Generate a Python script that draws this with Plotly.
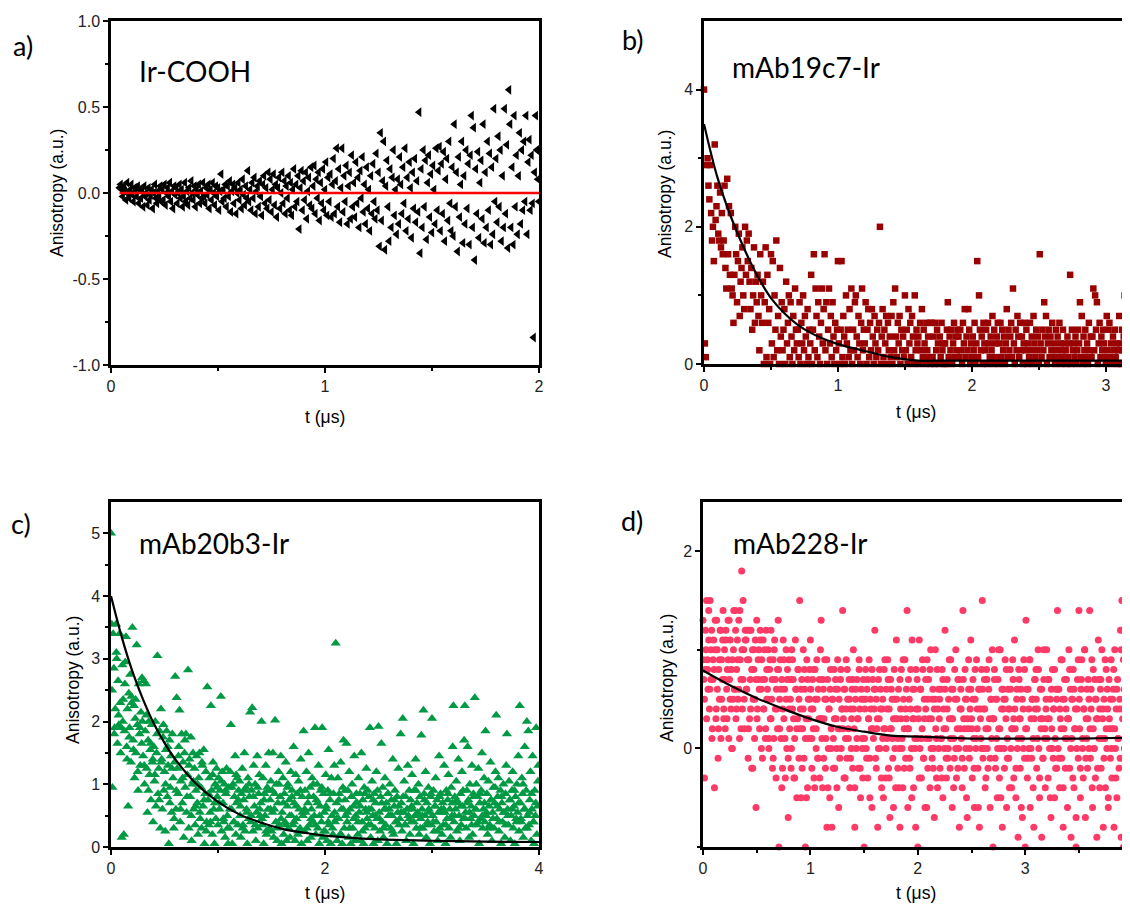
import numpy as np
import plotly.graph_objects as go

W, H = 1130, 905
PAGE_OFFSET = 8  # default HTML body margin

# ---------------- data ----------------
# Panel a: Ir-COOH, anisotropy in hundredths, uniform time grid
T0_A, DT_A = 0.04, 0.005
Y_A_HUNDREDTHS = [
    3, 5, 2, -2, 4, 1, -4, 6, 0, -3, 2, 5, -1, -5, 3, 1, -2, 4, -6, 2,
    -3, 1, -8, 4, -2, 0, -7, 3, -4, -1, 2, -9, 0, 5, -3, -6, 1, -2, 4, -5,
    2, -4, 5, -7, 0, 3, -2, 6, -5, 1, -9, 4, -1, 3, -6, 0, 5, -3, 2, -8,
    -2, 6, -5, 1, -7, 3, -3, 7, 0, -4, 4, -8, 2, -1, 5, -6, 1, -3, 6, -2,
    -6, 3, -1, 5, -9, 2, -4, 6, 0, -7, 4, -2, 3, -10, 1, 11, -5, 2, -3, 5,
    -8, 4, -2, 7, -11, 1, 5, -6, 3, -12, 0, 6, -4, 2, -9, 8, -1, -7, 4, -3,
    13, -5, 2, -10, 6, -3, 9, -12, 1, 4, -8, 7, -2, -13, 5, 10, -6, 3, -9, 12,
    -4, 8, -11, 2, 11, -7, 5, -14, 3, 9, -9, 0, 12, -6, 7, -12, 4, -3, 10, -10,
    6, -13, 2, 14, -8, 5, -5, 10, -21, 3, 13, -10, 7, -4, 12, -15, 1, 9, -7, 15,
    -9, 4, 16, -12, 8, -3, 12, -16, 6, -6, 14, -10, 2, 18, -13, 9, -5, 11, -14, 5,
    20, -12, 7, 26, -8, 14, -17, 3, 26, -11, 10, -5, 16, -18, 4, 12, -15, 22, -8, 6,
    -14, 18, -6, 9, -20, 13, -3, 21, -11, 5, -18, 15, -9, 2, -22, 10, -12, 17, -5, -15,
    23, -10, 12, -31, 35, -16, 7, 30, -33, 4, 19, -8, -28, 14, -20, 9, 25, -13, 2, -24,
    8, -18, 21, 5, -12, 15, -6, 26, -22, 9, -15, 18, 3, -26, 12, -9, 20, -17, 7, -11,
    47, -35, 14, -20, 25, -8, 19, -27, 6, 22, -14, 11, -23, 16, 2, -18, 26, -10, 13, 27,
    -22, 17, -12, 24, -28, 8, 20, -16, 30, -6, -22, 15, -25, 40, -8, 12, -34, 21, -14, 5,
    30, -29, 10, -18, 25, -9, 17, -30, 22, 45, -20, 38, -39, 14, -12, 24, -26, 6, 19, -15,
    40, -29, 12, -20, 30, -10, 23, -30, 15, -24, 49, -5, 20, -17, 33, -8, 25, -28, 10, -20,
    49, -12, 28, -32, 60, 40, -20, 15, -30, 45, -8, 22, -24, 10, 35, -18, 25, -10, 30, -5,
    45, -24, 18, 31, -10, 22, -6, -84, 12, 45, 25, 8, -5,
]
FIT_A_T = [0.04, 2.0]
FIT_A_Y = [0.0, 0.0]

# Panel b: mAb19c7-Ir, anisotropy in tenths
T0_B, DT_B = 0.0, 1 / 150
Y_B_TENTHS = [
    40, 3, 1, 29, 30, 26, 24, 29, 22, 18, 20, 15, 32, 21, 23,
    26, 19, 18, 25, 17, 22, 16, 18, 26, 14, 11, 27, 16, 23, 13,
    22, 11, 10, 6, 13, 20, 16, 9, 15, 19, 7, 12, 14, 17, 10,
    8, 20, 13, 18, 15, 19, 12, 8, 14, 5, 10, 17, 6, 12, 9,
    13, 7, 2, 16, 10, 6, 12, 0, 9, 17, 1, 13, 6, 8, 0,
    16, 3, 15, 1, 10, 5, 18, 2, 7, 0, 14, 4, 9, 2, 5,
    8, 0, 12, 3, 6, 10, 1, 9, 4, 0, 7, 2, 11, 5, 3,
    5, 1, 9, 0, 6, 3, 10, 2, 7, 4, 0, 8, 1, 5, 3,
    13, 0, 5, 16, 2, 11, 7, 1, 9, 4, 0, 6, 11, 3, 8,
    16, 2, 9, 0, 5, 11, 3, 7, 1, 9, 4, 0, 6, 2, 5,
    15, 3, 0, 5, 15, 1, 7, 4, 0, 10, 3, 5, 1, 8, 2,
    11, 0, 5, 2, 9, 10, 4, 1, 7, 3, 0, 6, 11, 2, 5,
    3, 9, 0, 5, 8, 1, 6, 2, 8, 4, 0, 7, 3, 1, 5,
    2, 6, 20, 0, 4, 8, 1, 5, 3, 7, 0, 6, 2, 4, 1,
    7, 0, 9, 2, 11, 4, 1, 6, 3, 7, 0, 5, 2, 4, 1,
    10, 2, 5, 0, 8, 3, 6, 1, 7, 4, 0, 10, 2, 5, 3,
    4, 0, 6, 2, 8, 1, 5, 3, 0, 6, 2, 4, 1, 6, 0,
    6, 1, 4, 0, 6, 2, 5, 3, 0, 4, 1, 6, 2, 3, 0,
    3, 0, 5, 9, 1, 4, 2, 5, 0, 3, 6, 1, 4, 2, 5,
    4, 1, 5, 2, 0, 6, 3, 8, 1, 4, 2, 8, 5, 0, 3,
    1, 4, 2, 6, 0, 3, 15, 1, 10, 5, 2, 4, 0, 6, 3,
    2, 5, 0, 6, 3, 1, 4, 2, 7, 0, 5, 3, 1, 4, 6,
    0, 3, 6, 1, 5, 2, 4, 0, 3, 8, 1, 5, 2, 4, 6,
    1, 11, 3, 0, 5, 2, 7, 4, 1, 6, 2, 4, 0, 3, 6,
    2, 5, 0, 3, 1, 6, 2, 4, 0, 7, 3, 1, 5, 2, 4,
    0, 16, 3, 1, 5, 2, 9, 4, 7, 0, 3, 5, 1, 4, 2,
    6, 1, 3, 0, 5, 2, 4, 1, 6, 3, 0, 2, 5, 1, 3,
    2, 0, 4, 1, 3, 13, 0, 5, 2, 3, 1, 4, 0, 2, 5,
    3, 9, 1, 7, 0, 4, 2, 5, 1, 3, 0, 6, 2, 4, 1,
    4, 11, 2, 10, 5, 9, 0, 3, 6, 1, 4, 2, 5, 3, 1,
    0, 7, 2, 5, 6, 1, 3, 0, 4, 2, 5, 1, 3, 0, 2,
    7, 3, 0, 5, 2, 4, 10, 1, 3, 0, 5, 2, 4, 1, 3,
    2, 6, 0, 4, 1, 3, 5, 0, 2, 4,
]
FIT_B_T = [0, 0.1, 0.2, 0.3, 0.4, 0.5, 0.6, 0.7, 0.8, 0.9, 1.0, 1.2, 1.4, 1.6, 1.8, 2.0, 2.5, 3.0, 3.5, 4.0]
FIT_B_Y = [3.5, 2.72, 2.15, 1.68, 1.28, 0.96, 0.74, 0.57, 0.45, 0.36, 0.29, 0.19, 0.1, 0.05, 0.05, 0.05, 0.05, 0.05, 0.05, 0.05]

# Panel c: mAb20b3-Ir
T0_C, DT_C = 0.0, 1 / 150
Y_C = [
    5.0, 3.55, 0.95, 3.4, 2.85, 1.9, 2.2, 3.55, 3.0, 1.65, 2.65, 1.95, 3.4, 2.3, 1.9,
    0.15, 2.9, 2.35, 0.2, 1.85, 2.95, 3.35, 1.6, 2.2, 0.65, 2.45, 1.9, 2.75, 1.35, 2.3,
    3.5, 1.7, 2.25, 1.1, 2.05, 1.5, 3.22, 1.95, 0.9, 2.6, 1.8, 1.3, 2.15, 1.65, 2.0,
    1.45, 2.65, 1.0, 1.85, 2.6, 1.25, 0.55, 1.7, 2.0, 1.15, 1.55, 0.75, 1.95, 1.35, 0.4,
    1.6, 1.05, 2.0, 0.65, 1.5, 3.05, 0.85, 1.25, 1.85, 0.3, 2.2, 1.4, 0.6, 1.75, 0.9,
    1.2, 0.25, 1.55, 1.85, 0.8, 1.3, 0.05, 1.7, 0.95, 1.45, 0.55, 1.8, 1.1, 0.3, 1.35,
    2.72, 0.6, 2.38, 1.25, 0.85, 1.6, 2.18, 0.4, 1.05, 1.8, 0.7, 1.35, 0.15, 1.5, 0.95,
    1.8, 0.55, 1.15, 2.82, 0.3, 1.4, 0.8, 1.75, 0.1, 1.0, 1.5, 0.6, 1.25, 0.35, 0.9,
    1.45, 0.7, 0.2, 1.1, 1.5, 0.45, 0.95, 0.3, 1.3, 0.65, 1.55, 0.05, 0.85, 1.2, 0.4,
    2.55, 0.75, 0.35, 1.1, 0.55, 2.25, 0.9, 0.2, 1.35, 0.6, 0.05, 1.0, 0.45, 1.25, 0.8,
    0.35, 1.1, 0.6, 0.9, 2.4, 0.25, 1.2, 0.7, 0.4, 1.0, 0.15, 0.85, 1.25, 0.5, 0.05,
    0.95, 0.3, 1.2, 1.95, 0.6, 0.05, 1.0, 0.4, 0.8, 1.45, 0.2, 0.7, 1.1, 0.35, 0.9,
    1.05, 0.5, 0.15, 0.85, 1.25, 0.35, 0.75, 1.5, 0.25, 0.95, 0.6, 0.05, 1.1, 0.45, 0.8,
    2.15, 0.4, 0.9, 2.22, 0.25, 1.3, 0.65, 1.0, 0.1, 0.55, 1.45, 0.3, 0.85, 1.15, 0.5,
    0.7, 2.0, 0.35, 1.1, 0.05, 0.85, 0.5, 1.3, 0.2, 0.95, 0.6, 1.5, 0.3, 0.75, 1.05,
    0.25, 0.9, 1.5, 0.15, 0.6, 2.02, 0.4, 1.0, 0.1, 0.7, 1.2, 0.35, 0.8, 1.45, 0.05,
    0.55, 1.1, 0.2, 0.85, 0.4, 1.35, 0.1, 0.65, 1.0, 0.3, 0.75, 0.15, 1.2, 0.5, 0.9,
    0.35, 1.6, 0.7, 0.1, 1.15, 0.45, 0.85, 0.2, 1.05, 0.6, 0.3, 1.4, 0.05, 0.8, 0.5,
    1.85, 0.25, 0.9, 0.55, 1.2, 0.1, 0.7, 1.5, 0.35, 0.95, 0.15, 0.6, 1.1, 0.4, 0.8,
    0.5, 1.9, 0.2, 0.75, 1.0, 0.3, 1.3, 0.05, 0.65, 0.9, 0.4, 1.9, 0.15, 0.85, 0.55,
    0.25, 1.15, 0.6, 0.1, 0.9, 1.55, 0.35, 0.75, 0.05, 1.1, 0.5, 0.2, 0.85, 1.3, 0.4,
    3.25, 0.7, 0.1, 1.1, 0.45, 0.85, 0.2, 1.35, 0.6, 0.05, 0.95, 1.7, 0.3, 0.75, 0.5,
    1.65, 0.4, 0.9, 0.15, 1.2, 0.6, 0.05, 0.8, 1.0, 0.3, 0.65, 1.45, 0.1, 0.5, 0.85,
    0.7, 0.2, 1.1, 0.55, 0.85, 0.1, 1.5, 0.4, 0.75, 0.05, 0.95, 0.3, 0.6, 1.25, 0.45,
    0.9, 0.35, 0.8, 1.9, 0.15, 0.6, 1.05, 0.5, 0.05, 0.85, 0.3, 0.7, 1.2, 0.45, 0.1,
    1.92, 0.55, 0.25, 0.8, 1.65, 0.4, 0.95, 0.15, 0.6, 1.1, 0.35, 0.7, 0.05, 0.85, 0.5,
    0.6, 1.0, 0.3, 0.75, 0.5, 1.4, 0.2, 0.65, 0.9, 0.4, 0.05, 0.8, 0.55, 1.25, 0.35,
    0.45, 1.8, 0.7, 0.25, 2.05, 0.55, 1.05, 0.35, 0.8, 0.1, 0.6, 1.3, 0.5, 0.9, 0.2,
    0.75, 0.4, 1.15, 0.6, 0.05, 0.9, 0.5, 1.4, 0.3, 0.7, 0.55, 1.0, 0.2, 0.8, 0.45,
    1.78, 0.6, 0.3, 2.18, 0.85, 0.5, 1.2, 0.15, 0.7, 0.4, 0.95, 0.55, 0.05, 0.8, 0.35,
    2.05, 0.5, 0.9, 0.25, 0.65, 1.1, 0.4, 0.75, 0.1, 0.55, 1.45, 0.3, 0.85, 0.6, 0.2,
    0.7, 0.35, 1.3, 0.55, 0.05, 0.9, 0.45, 0.75, 1.15, 0.3, 0.6, 0.15, 0.95, 0.5, 1.6,
    2.25, 0.4, 0.8, 0.6, 1.05, 0.25, 0.7, 1.4, 0.5, 0.1, 0.85, 0.35, 1.2, 0.65, 0.45,
    1.7, 2.25, 0.55, 0.3, 0.9, 1.6, 0.75, 0.15, 1.0, 0.45, 0.65, 1.3, 0.2, 0.85, 0.5,
    2.38, 0.6, 1.0, 0.35, 0.8, 1.25, 0.05, 0.7, 0.45, 0.9, 1.5, 0.3, 0.6, 1.1, 0.4,
    1.85, 0.5, 0.85, 0.2, 1.05, 0.65, 0.35, 1.35, 0.75, 0.1, 0.55, 0.95, 0.3, 0.7, 1.2,
    2.1, 0.45, 0.8, 1.1, 0.25, 0.6, 0.9, 0.05, 0.7, 0.4, 1.0, 0.55, 0.15, 0.85, 1.3,
    1.8, 0.6, 0.35, 1.05, 0.75, 0.1, 0.5, 0.9, 1.2, 0.3, 0.65, 0.05, 0.8, 0.45, 1.0,
    0.55, 1.45, 0.25, 2.25, 0.7, 0.4, 1.1, 0.85, 0.15, 0.6, 1.6, 0.3, 0.9, 2.0, 0.5,
    1.85, 0.35, 0.75, 1.2, 0.1, 0.6, 1.45, 0.4, 0.05, 0.9, 0.5, 1.9, 0.2, 0.65, 1.3,
]
# interleaved samples of the same run (every other read-out), panel c
T0_C2, DT_C2 = 0.01, 0.02
Y_C2 = [
    2.5, 1.8, 3.1, 2.1, 1.5, 2.0, 2.6, 1.4, 1.75, 2.4,
    1.55, 2.35, 1.2, 1.9, 2.7, 1.3, 2.1, 0.9, 1.65, 1.4,
    1.15, 1.8, 0.75, 1.35, 1.95, 1.0, 1.6, 0.7, 1.25, 0.45,
    0.9, 1.45, 0.6, 1.1, 1.7, 0.8, 1.3, 0.5, 1.05, 0.65,
    1.0, 0.55, 1.35, 0.75, 0.25, 0.85, 0.4, 1.15, 0.7, 0.95,
    0.7, 1.05, 0.45, 0.9, 0.3, 0.6, 0.95, 0.4, 1.15, 0.75,
    0.65, 0.3, 0.9, 0.55, 1.0, 0.5, 0.8, 0.35, 0.95, 0.6,
    0.45, 0.75, 0.25, 0.9, 0.6, 0.55, 0.85, 0.3, 1.0, 0.45,
    0.7, 0.35, 0.95, 0.5, 0.8, 0.4, 0.65, 0.25, 0.9, 0.55,
    0.6, 0.3, 0.8, 0.45, 1.0, 0.35, 0.7, 0.5, 0.95, 0.25,
    0.65, 0.4, 0.85, 0.3, 0.55, 0.45, 0.75, 0.2, 0.6, 0.9,
    0.55, 0.3, 0.8, 0.45, 0.7, 0.4, 0.65, 0.25, 0.85, 0.55,
    0.6, 0.35, 0.75, 0.5, 0.9, 0.45, 0.7, 0.3, 0.6, 0.85,
    0.5, 0.25, 0.75, 0.4, 0.65, 0.55, 0.8, 0.35, 0.6, 0.45,
    0.65, 0.4, 0.9, 0.5, 0.3, 0.5, 0.75, 0.35, 0.6, 0.85,
    0.4, 0.65, 0.25, 0.8, 0.55, 0.6, 0.35, 0.85, 0.45, 0.7,
    0.5, 0.75, 0.3, 0.65, 0.9, 0.45, 0.7, 0.55, 0.35, 0.8,
    0.6, 0.4, 0.85, 0.5, 0.7, 0.55, 0.3, 0.75, 0.45, 0.95,
    0.65, 0.4, 0.8, 0.55, 0.35, 0.5, 0.75, 0.6, 0.9, 0.4,
    0.7, 0.45, 1.0, 0.6, 0.3, 0.55, 0.85, 0.4, 0.7, 1.05,
]
FIT_C_T = [0, 0.1, 0.2, 0.3, 0.4, 0.5, 0.6, 0.8, 1.0, 1.2, 1.4, 1.6, 1.8, 2.0, 2.5, 3.0, 3.5, 4.0]
FIT_C_Y = [4.0, 3.35, 2.8, 2.35, 1.97, 1.66, 1.4, 1.0, 0.72, 0.52, 0.39, 0.29, 0.23, 0.18, 0.12, 0.1, 0.085, 0.08]

# Panel d: mAb228-Ir, anisotropy in tenths
T0_D, DT_D = 0.0, 1 / 150
Y_D_TENTHS = [
    13, 7, -3, 8, 10, 15, 9, 6, 11, 4, 15, 7, 12, 2, 9,
    11, -4, 10, 3, 13, 6, -1, 8, 5, 12, 1, 9, 7, 14, 4,
    10, 2, 12, 6, 8, 13, 1, 7, 11, 4, 0, 9, 5, 14, 6,
    14, 3, 8, 11, 5, 13, 1, 9, 7, 18, 4, 15, 10, 2, 12,
    11, 6, 12, -1, 9, 3, 7, 12, -2, 10, 5, 8, 1, 11, -6,
    13, 4, 7, 10, 2, 12, 6, 9, -1, 11, 4, 7, 1, 12, 5,
    6, 10, 0, 8, 3, 12, 5, -2, 9, 1, 11, 7, -3, 4, 8,
    13, -10, 5, 9, 1, 7, -2, 11, 3, 6, -3, 10, 0, 8, -7,
    9, 2, 5, -2, 10, 4, 7, -3, 1, 11, 6, -5, 3, 8, -1,
    15, 4, -5, 7, 2, 10, -1, 6, -10, 3, 9, -4, 5, 1, 8,
    11, 4, -2, 7, 2, 8, -4, 5, 0, 9, -1, 6, 3, -3, 10,
    13, 1, -4, 6, 3, 9, -2, 5, -8, 7, 0, 4, -5, 8, 2,
    -8, 5, 1, 8, -2, 6, 3, -4, 9, 2, 5, -1, 7, 0, 4,
    14, 3, -3, 6, 1, 9, -1, 5, 2, 7, -4, 4, 0, 6, -2,
    10, 2, -8, 5, 0, 7, 3, -2, 8, 4, -5, 6, 1, -3, 5,
    -10, 4, 8, 0, 6, -3, 3, 9, -1, 5, 2, -6, 7, 1, 4,
    12, -1, 5, 2, -8, 7, 3, 0, 6, -3, 4, 1, -5, 8, 2,
    -3, 6, 1, 9, -2, 4, -7, 7, 2, 5, -1, 3, 8, 0, -4,
    11, 3, -2, 6, 0, -8, 4, 8, 1, -4, 5, 2, 9, -1, 3,
    14, -6, 2, 5, -2, 8, 0, 11, 3, -4, 6, 1, -8, 4, 7,
    -10, 3, 11, 0, 6, -3, 2, 8, -1, 5, -6, 4, 1, 9, -2,
    7, 1, -4, 10, 3, -1, 6, 0, -7, 5, 2, -3, 8, 4, 0,
    3, -2, 6, 1, 8, -5, 4, 0, 12, 2, -3, 7, -1, 5, 3,
    -2, 9, 3, -6, 6, 1, -1, 5, 10, -3, 2, 7, 0, -8, 4,
    6, 1, -4, 14, 3, -2, 8, 0, 5, -7, 2, 6, -1, 4, 11,
    3, -3, 7, 1, -6, 5, 0, 9, 2, -2, 6, -8, 4, 1, 8,
    15, -1, 4, 7, -4, 2, 8, 0, -2, 6, 3, -6, 5, 1, 10,
    -10, 3, 8, -1, 5, 1, -5, 7, 2, -3, 10, 0, 4, -8, 6,
    5, -2, 9, 3, -6, 1, 6, -1, 4, 8, 0, -4, 2, 7, -3,
    11, 2, -5, 5, 0, -9, 8, 3, -2, 6, 1, -7, 4, 9, -1,
    -10, 13, 2, -3, 6, 0, 9, -6, 3, -1, 5, 1, -8, 7, 4,
    8, -2, 4, 10, 0, -5, 6, 2, -9, 3, -1, 7, 1, -4, 5,
    10, 3, -3, 7, 0, 5, -7, 2, 8, -1, 4, -5, 1, 6, -2,
    14, 0, 6, -4, 3, 9, -1, 5, -8, 2, 7, -2, 4, 1, -6,
    3, 10, -2, 6, -9, 1, 5, 8, -4, 2, 4, -10, 0, 7, -1,
    14, 2, -5, 6, 9, 0, -3, 4, 10, -7, 3, 1, -2, 7, 5,
    14, -1, 4, 9, -6, 2, 0, 7, -3, 5, -9, 3, 11, 1, -4,
    6, -2, 10, 3, -8, 5, 1, -4, 8, 0, 4, -6, 7, 2, -1,
    9, -3, 2, 6, -8, 10, 0, 4, -5, 7, 1, -2, 5, 12, -9,
    15, 3, -10, 6, 0, -4, 8, 2, -7, 5, 1, 9, -2, 4, 11,
    2, 6, -3, 8, 0, 4, -6, 9, 1, 5,
]
# interleaved samples of the same run (every other read-out), panel d
T0_D2, DT_D2 = 0.0033, 0.01
Y_D2_TENTHS = [
    9, 5, 12, 3, 8, 14, 6, 10, 1, 7, 8, 13, 4, 10, 2, 9, 12, 5, 11, 3,
    7, 11, 3, 9, 13, 5, 8, 0, 10, 6, 12, 4, 9, 6, 14, 2, 10, 7, 5, 11,
    6, 9, 2, 12, 4, 8, -2, 10, 5, 7, 3, 9, 6, 11, 0, 7, 4, 10, 2, 8,
    5, 1, 9, 3, 7, -1, 10, 4, 6, 2, 8, 2, 6, -4, 4, 9, 1, 5, 7, -1,
    4, 7, 0, 9, 3, -3, 6, 2, 8, 5, 2, 6, -2, 4, 8, 1, -5, 7, 3, 5,
    6, 1, 4, -3, 8, 2, 5, -1, 7, 3, 3, 7, -1, 5, 1, 9, -4, 4, 6, 0,
    5, -2, 3, 7, 0, 6, -6, 2, 8, 4, 2, 6, -3, 4, 8, 1, 5, -1, 3, 7,
    4, -4, 6, 1, 3, 9, -2, 5, 0, 7, 1, 5, -1, 7, 3, -5, 4, 8, 2, 6,
    6, -2, 3, 0, 8, 4, -4, 5, 2, 9, 0, 4, 7, -3, 2, 6, 1, -6, 5, 3,
    5, 1, -4, 7, 3, 0, 9, -2, 4, 6, 2, 7, -1, 4, -5, 6, 3, 0, 8, 1,
    4, -3, 6, 1, 9, -1, 3, 7, -6, 5, 3, 8, 0, 5, -2, 4, 10, 1, -4, 6,
    5, 1, -3, 7, 2, 6, -1, 4, 0, 9, 1, 6, 3, -4, 8, 0, 5, -2, 7, 2,
    4, -1, 7, 2, 5, -5, 3, 9, 0, 6, 2, 5, -2, 8, 1, 4, -6, 6, 3, 0,
    6, 0, 4, -3, 7, 2, 9, -1, 5, 3, 3, 7, -2, 5, 0, 10, 2, -5, 6, 4,
    0, 5, 8, -1, 4, -4, 6, 2, 9, 3, 4, -2, 6, 1, 7, 3, -6, 5, 0, 8,
    2, 6, -1, 4, 9, 0, 5, -4, 3, 7, 5, 1, 8, -3, 3, 6, -1, 10, 2, 4,
    1, 7, 3, -5, 6, 0, 4, 8, -2, 5, 6, -1, 4, 2, 9, -4, 5, 1, 7, 3,
    3, 8, 0, 5, -3, 6, 2, -7, 4, 9, 5, -2, 7, 1, 4, 10, -1, 6, 3, 0,
    2, 6, -4, 8, 0, 5, 3, -2, 7, 4, 7, 1, 4, -1, 9, 2, 6, -5, 3, 5,
    0, 5, 8, 2, -3, 6, 1, 4, -1, 10, 4, 9, 0, 6, -2, 3, 7, 1, 5, -6,
]
FIT_D_T = [0, 0.25, 0.5, 0.75, 1.0, 1.25, 1.5, 1.75, 2.0, 2.5, 3.0, 3.5, 4.0, 4.1]
FIT_D_Y = [0.79, 0.64, 0.51, 0.4, 0.3, 0.22, 0.17, 0.13, 0.12, 0.1, 0.1, 0.1, 0.11, 0.11]

PANEL_LABELS = ["a)", "b)", "c)", "d)"]
PANEL_TITLES = ["Ir-COOH", "mAb19c7-Ir", "mAb20b3-Ir", "mAb228-Ir"]
Y_TITLE = "Anisotropy (a.u.)"
X_TITLE = "t (μs)"

# ---------------- derived ----------------
def grid(t0, dt, n):
    return t0 + dt * np.arange(n)

y_a = np.array(Y_A_HUNDREDTHS) / 100.0
y_b = np.array(Y_B_TENTHS) / 10.0
y_c = np.concatenate([np.array(Y_C), np.array(Y_C2)])
y_d = np.concatenate([np.array(Y_D_TENTHS), np.array(Y_D2_TENTHS)]) / 10.0
t_a = grid(T0_A, DT_A, len(Y_A_HUNDREDTHS))
t_b = grid(T0_B, DT_B, len(Y_B_TENTHS))
t_c = np.concatenate([grid(T0_C, DT_C, len(Y_C)), grid(T0_C2, DT_C2, len(Y_C2))])
t_d = np.concatenate([grid(T0_D, DT_D, len(Y_D_TENTHS)), grid(T0_D2, DT_D2, len(Y_D2_TENTHS))])


def px(x):
    return (x - PAGE_OFFSET) / W


def py(y):
    return 1 - (y - PAGE_OFFSET) / H


fig = go.Figure()

fig.add_trace(go.Scatter(x=t_a, y=y_a, mode="markers", xaxis="x", yaxis="y",
                         marker=dict(symbol="triangle-left", size=8.5, color="black", line=dict(width=0))))
fig.add_trace(go.Scatter(x=FIT_A_T, y=FIT_A_Y, mode="lines", xaxis="x", yaxis="y",
                         line=dict(color="#ff0000", width=2.5)))

fig.add_trace(go.Scatter(x=t_b, y=y_b, mode="markers", xaxis="x2", yaxis="y2", cliponaxis=False,
                         marker=dict(symbol="square", size=6.5, color="#9b0000", line=dict(width=0))))
fig.add_trace(go.Scatter(x=FIT_B_T, y=FIT_B_Y, mode="lines", xaxis="x2", yaxis="y2", line_shape="spline",
                         line=dict(color="black", width=2.2)))

fig.add_trace(go.Scatter(x=t_c, y=y_c, mode="markers", xaxis="x3", yaxis="y3",
                         marker=dict(symbol="triangle-up", size=9, color="#009a44", line=dict(width=0))))
fig.add_trace(go.Scatter(x=FIT_C_T, y=FIT_C_Y, mode="lines", xaxis="x3", yaxis="y3", line_shape="spline",
                         line=dict(color="black", width=2.2)))

fig.add_trace(go.Scatter(x=t_d, y=y_d, mode="markers", xaxis="x4", yaxis="y4", cliponaxis=False,
                         marker=dict(symbol="circle", size=7, color="#ff3a66", line=dict(width=0))))
fig.add_trace(go.Scatter(x=FIT_D_T, y=FIT_D_Y, mode="lines", xaxis="x4", yaxis="y4", line_shape="spline",
                         line=dict(color="black", width=2.2)))

tickfont = dict(family="Liberation Sans, Arial, sans-serif", size=16, color="#222222")
base = dict(showline=True, linecolor="black", linewidth=2.5, ticks="outside", ticklen=5, tickwidth=2,
            tickcolor="black", showgrid=False, zeroline=False, tickfont=tickfont, layer="above traces",
            automargin=False)


def minor(vals):
    return dict(ticks="outside", ticklen=3, tickwidth=2, tickcolor="black", tickvals=vals, showgrid=False)


top_dom = [py(365), py(21)]
bot_dom = [py(847), py(502)]
left_dom = [px(111), px(539)]
right_dom = [px(704), 1.0]
right_dom_d = [px(703), 1.0]

fig.update_layout(
    template="none",
    width=W, height=H, margin=dict(l=0, r=0, t=0, b=0, autoexpand=False),
    paper_bgcolor="white", plot_bgcolor="white", showlegend=False,
    xaxis=dict(base, domain=left_dom, range=[0, 2], anchor="y", mirror=True,
               tickvals=[0, 1, 2], ticktext=["0", "1", "2"], minor=minor([0.5, 1.5])),
    yaxis=dict(base, domain=top_dom, range=[-1, 1], anchor="x", mirror=True,
               tickvals=[-1, -0.5, 0, 0.5, 1], ticktext=["-1.0", "-0.5", "0.0", "0.5", "1.0"],
               minor=minor([-0.75, -0.25, 0.25, 0.75])),
    xaxis2=dict(base, domain=right_dom, range=[0, 3.24], anchor="y2", mirror=True,
                tickvals=[0, 1, 2, 3], ticktext=["0", "1", "2", "3"], minor=minor([0.5, 1.5, 2.5])),
    yaxis2=dict(base, domain=[py(364), py(21)], range=[0, 5], anchor="x2", mirror=False,
                tickvals=[0, 2, 4], ticktext=["0", "2", "4"], minor=minor([1, 3])),
    xaxis3=dict(base, domain=left_dom, range=[0, 4], anchor="y3", mirror=True,
                tickvals=[0, 2, 4], ticktext=["0", "2", "4"], minor=minor([1, 3])),
    yaxis3=dict(base, domain=bot_dom, range=[0, 5.5], anchor="x3", mirror=True,
                tickvals=[0, 1, 2, 3, 4, 5], ticktext=["0", "1", "2", "3", "4", "5"],
                minor=minor([0.5, 1.5, 2.5, 3.5, 4.5])),
    xaxis4=dict(base, domain=right_dom_d, range=[0, 4.05], anchor="y4", mirror=True,
                tickvals=[0, 1, 2, 3, 4], ticktext=["0", "1", "2", "3", "4"],
                minor=minor([0.5, 1.5, 2.5, 3.5])),
    yaxis4=dict(base, domain=bot_dom, range=[-1, 2.5], anchor="x4", mirror=False,
                tickvals=[0, 2], ticktext=["0", "2"], minor=minor([-1, 1])),
)

ann = []
label_font = dict(family="Lato, Carlito, Calibri, sans-serif", size=27, color="black")
title_font = dict(family="Lato, Carlito, Calibri, sans-serif", size=28, color="black")
axis_font = dict(family="Liberation Sans, Arial, sans-serif", size=17.5, color="black")

label_pos = [(23, 45), (633, 40), (21, 523), (632, 520)]
title_pos = [(137, 71), (730, 67), (137, 543), (731, 543)]
ytitle_pos = [(57, 193), (665, 194), (73, 680), (667, 678)]
xtitle_pos = [(325, 417), (916, 412), (325, 893), (916, 893)]

for i in range(4):
    lx, ly = label_pos[i]
    ann.append(dict(x=px(lx), y=py(ly), xref="paper", yref="paper", text=PANEL_LABELS[i], showarrow=False,
                    xanchor="center", yanchor="middle", font=label_font))
    tx, ty = title_pos[i]
    ann.append(dict(x=px(tx), y=py(ty), xref="paper", yref="paper", text=PANEL_TITLES[i], showarrow=False,
                    xanchor="left", yanchor="middle", font=title_font))
    yx, yy = ytitle_pos[i]
    ann.append(dict(x=px(yx), y=py(yy), xref="paper", yref="paper", text=Y_TITLE, showarrow=False,
                    xanchor="center", yanchor="middle", textangle=-90, font=axis_font))
    xx, xy = xtitle_pos[i]
    ann.append(dict(x=px(xx), y=py(xy), xref="paper", yref="paper", text=X_TITLE, showarrow=False,
                    xanchor="center", yanchor="middle", font=axis_font))

fig.update_layout(annotations=ann)
fig.write_html("out.html")
